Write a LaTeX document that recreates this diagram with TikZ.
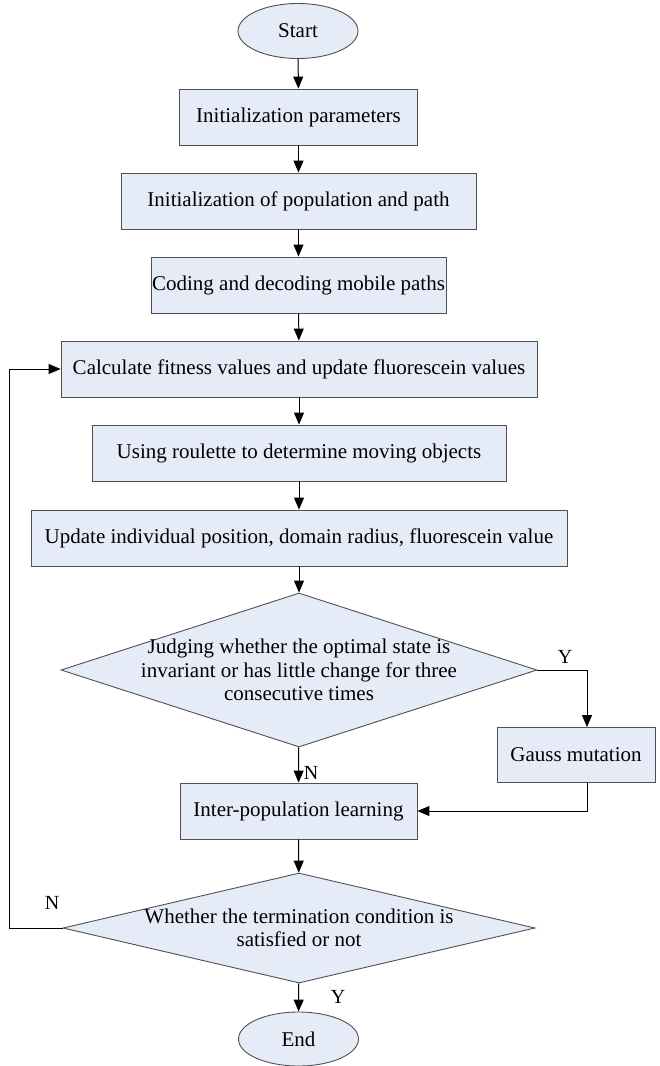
\documentclass[tikz,border=0pt]{standalone}
\usepackage{fontspec}
\setmainfont{Liberation Serif}
\usetikzlibrary{shapes.geometric,arrows.meta}
\definecolor{boxfill}{RGB}{230,236,247}
\definecolor{boxline}{RGB}{80,80,80}
\tikzset{
  base/.style={draw=boxline, fill=boxfill, line width=0.9pt, inner sep=0pt, font=\fontsize{21}{24}\selectfont},
  proc/.style={base, rectangle, minimum height=56pt},
  term/.style={base, ellipse, minimum width=120pt, minimum height=55pt},
  dec/.style={base, diamond, aspect=3},
  txt/.style={align=center, font=\fontsize{21}{23.5}\selectfont, inner sep=0pt},
  lab/.style={font=\fontsize{20}{22}\selectfont, inner sep=0pt},
  conn/.style={line width=1pt, -{Triangle[length=12pt,width=10pt]}},
  line/.style={line width=1pt}
}
\begin{document}
\begin{tikzpicture}[x=1pt,y=1pt]
\useasboundingbox (0,0) rectangle (659,-1066);
\node[term] (start) at (298,-31) {Start};
\node[proc, minimum width=238pt] (b1) at (298.5,-117) {Initialization parameters};
\node[proc, minimum width=355pt] (b2) at (298.5,-201) {Initialization of population and path};
\node[proc, minimum width=295pt] (b3) at (298.5,-285) {Coding and decoding mobile paths};
\node[proc, minimum width=476pt] (b4) at (299,-369) {Calculate fitness values and update fluorescein values};
\node[proc, minimum width=414pt] (b5) at (299,-453) {Using roulette to determine moving objects};
\node[proc, minimum width=536pt] (b6) at (299,-538) {Update individual position, domain radius, fluorescein value};
\node[dec, minimum width=476pt, minimum height=154pt] (d1) at (299,-670) {};
\node[txt] (d1t) at (299,-670) {Judging whether the optimal state is\\invariant or has little change for three\\consecutive times};
\node[proc, minimum width=158pt, minimum height=55pt] (g) at (576,-755) {Gauss mutation};
\node[proc, minimum width=237pt] (b7) at (298.5,-811) {Inter-population learning};
\node[dec, minimum width=472pt, minimum height=110pt] (d2) at (299,-928) {};
\node[txt] (d2t) at (299,-928) {Whether the termination condition is\\satisfied or not};
\node[term, minimum height=54pt] (end) at (298.5,-1039) {End};

\coordinate (yc) at (587,-670);
\coordinate (gc) at (587,-811);
\coordinate (nl) at (9,-928);
\coordinate (nu) at (9,-369);

\draw[conn] (start) -- (b1);
\draw[conn] (b1) -- (b2);
\draw[conn] (b2) -- (b3);
\draw[conn] (b3) -- (b4);
\draw[conn] (b4) -- (b5);
\draw[conn] (b5) -- (b6);
\draw[conn] (b6) -- (d1);
\draw[conn] (d1.east) -- (yc) -- (g.north -| yc);
\draw[conn] (d1) -- (b7);
\draw[conn] (g.south -| gc) -- (gc) -- (b7.east |- gc);
\draw[conn] (b7) -- (d2);
\draw[conn] (d2.west) -- (nl) -- (nu) -- (b4.west);
\draw[conn] (d2) -- (end);

\node[lab] (ly1) at (565,-657) {Y};
\node[lab] (ln1) at (311,-773) {N};
\node[lab] (ln2) at (52,-903) {N};
\node[lab] (ly2) at (338,-997) {Y};
\end{tikzpicture}
\end{document}
